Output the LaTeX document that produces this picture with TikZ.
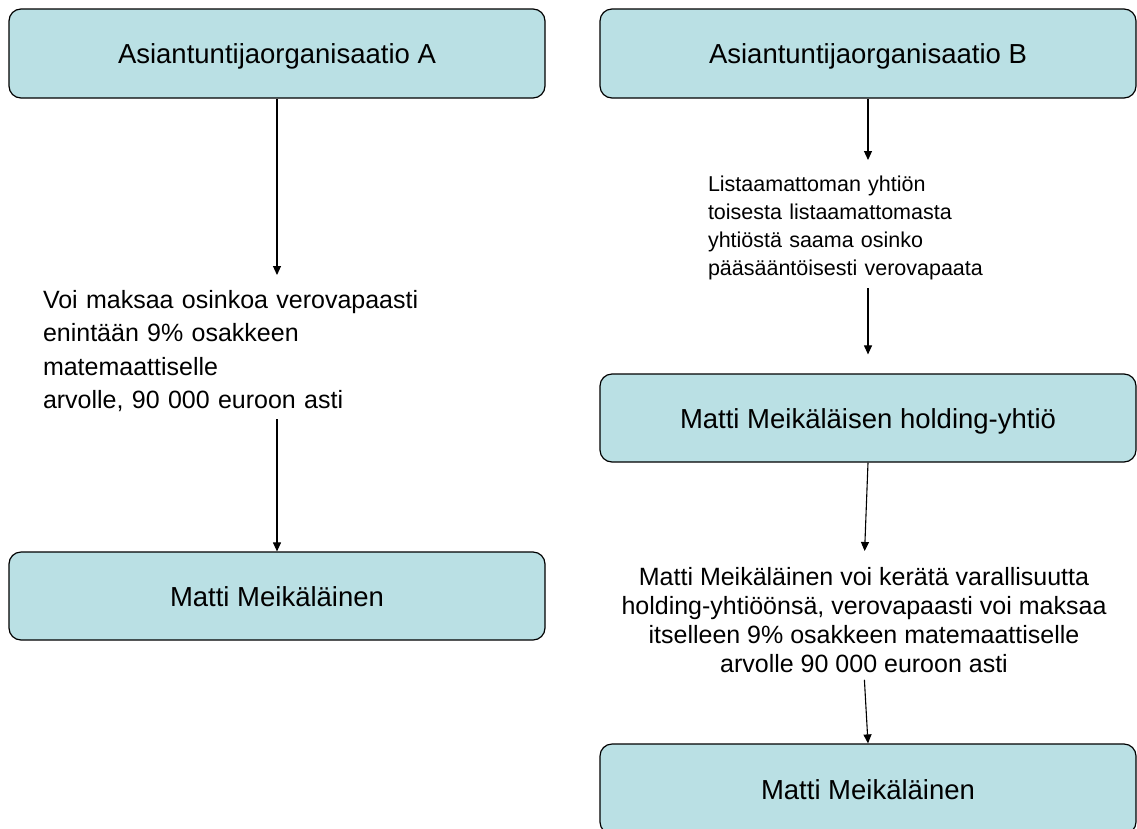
\documentclass[tikz,border=0pt]{standalone}
\usepackage{fontspec}
\setmainfont{Liberation Sans}
\usetikzlibrary{arrows.meta}
\definecolor{turkoosi}{RGB}{186,224,228}

\begin{document}
\begin{tikzpicture}[x=1pt, y=-1pt,
    laatikko/.style={draw=black, line width=1.2pt, fill=turkoosi, rounded corners=12pt,
        minimum width=536pt, inner sep=0pt, text height=20pt, text depth=0pt,
        font=\fontsize{27.5}{31}\selectfont},
    teksti/.style={inner sep=0pt},
    nuoli/.style={-{Triangle[length=9pt,width=8pt]}, line width=1.1pt}]
    \clip (0,0) rectangle (1137,828);

    % --- Vasen puoli ---
    \node[laatikko, minimum height=89pt] (orgA) at (277,53.5) {Asiantuntijaorganisaatio A};
    \node[teksti, anchor=north, text width=468pt, align=left,
        font=\fontsize{25}{33.5}\selectfont] (ehtoA) at (277,290)
        {Voi maksaa osinkoa verovapaasti\\ enintään 9\% osakkeen\\ matemaattiselle\\ arvolle, 90 000 euroon asti};
    \node[laatikko, minimum height=88pt] (mattiA) at (277,596) {Matti Meikäläinen};

    \draw[nuoli, shorten >=15pt] (orgA) -- (ehtoA);
    \draw[nuoli, shorten <=7pt] (ehtoA) -- (mattiA);

    % --- Oikea puoli ---
    \node[laatikko, minimum height=89pt] (orgB) at (868,53.5) {Asiantuntijaorganisaatio B};
    \node[teksti, anchor=north, text width=320pt, align=left,
        font=\fontsize{21.5}{28}\selectfont] (osinkoB) at (868,176)
        {Listaamattoman yhtiön\\ toisesta listaamattomasta\\ yhtiöstä saama osinko\\ pääsääntöisesti verovapaata};
    \node[laatikko, minimum height=88pt] (holding) at (868,418) {Matti Meikäläisen holding-yhtiö};
    \node[teksti, anchor=north, align=center,
        font=\fontsize{25}{29}\selectfont] (kerataB) at (864,567)
        {Matti Meikäläinen voi kerätä varallisuutta\\ holding-yhtiöönsä, verovapaasti voi maksaa\\ itselleen 9\% osakkeen matemaattiselle\\ arvolle 90 000 euroon asti};
    \node[laatikko, minimum height=90pt] (mattiB) at (868,789) {Matti Meikäläinen};

    \draw[nuoli, shorten >=16pt] (orgB) -- (osinkoB);
    \draw[nuoli, shorten <=8pt, shorten >=19pt] (osinkoB) -- (holding);
    \draw[nuoli, shorten >=16pt] (holding.south) -- (kerataB.north);
    \draw[nuoli, shorten <=7pt] (kerataB.south) -- (mattiB.north);
\end{tikzpicture}
\end{document}
